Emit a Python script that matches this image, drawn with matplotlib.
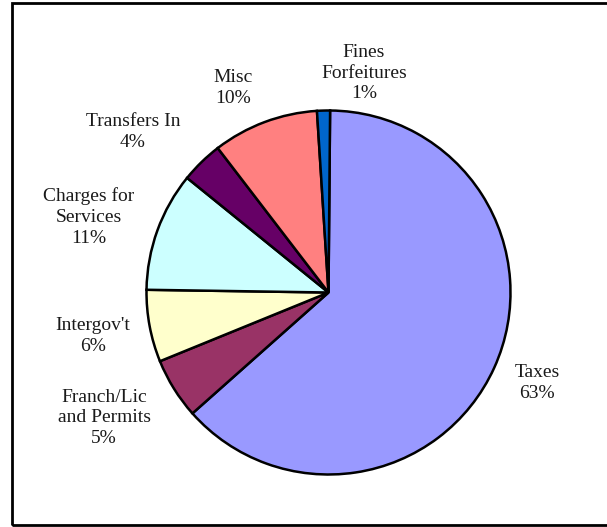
import matplotlib
matplotlib.use("Agg")
import matplotlib.pyplot as plt
from matplotlib.patches import Rectangle

# Data
categories = ["Taxes", "Franch/Lic\nand Permits", "Intergov't", "Charges for\nServices",
              "Transfers In", "Misc", "Fines\nForfeitures"]
values = [63.3, 5.4, 6.4, 10.6, 3.75, 9.4, 1.15]
pct_labels = ["63%", "5%", "6%", "11%", "4%", "10%", "1%"]
colors = ["#9999FF", "#993366", "#FFFFCC", "#CCFFFF", "#660066", "#FF8080", "#0066CC"]

# label centres (pixels from top-left)
label_pos = [(537, 383), (104, 418), (93, 336), (89, 217), (133, 132), (233, 88), (364, 73)]

W, H = 607, 527
fig = plt.figure(figsize=(W / 100, H / 100), dpi=100)
ax = fig.add_axes([0, 0, 1, 1])

ax.pie(values, colors=colors, startangle=89.5, counterclock=False,
       center=(328.5, H - 292.5), radius=182, frame=True,
       wedgeprops=dict(edgecolor="black", linewidth=1.8))
ax.set_xlim(0, W)
ax.set_ylim(0, H)
ax.set_aspect("equal")
ax.axis("off")

for cat, pct, (px, py) in zip(categories, pct_labels, label_pos):
    ax.text(px, H - py, f"{cat}\n{pct}", ha="center", va="center",
            family="Liberation Serif", fontsize=14, color="#1a1a1a",
            linespacing=1.28)

# outer frame
fig.patches.append(Rectangle((12 / W, (H - 525) / H), (W + 10 - 12) / W, (525 - 3) / H,
                             transform=fig.transFigure, fill=False,
                             edgecolor="black", linewidth=2))

fig.savefig("out.png", dpi=100)
